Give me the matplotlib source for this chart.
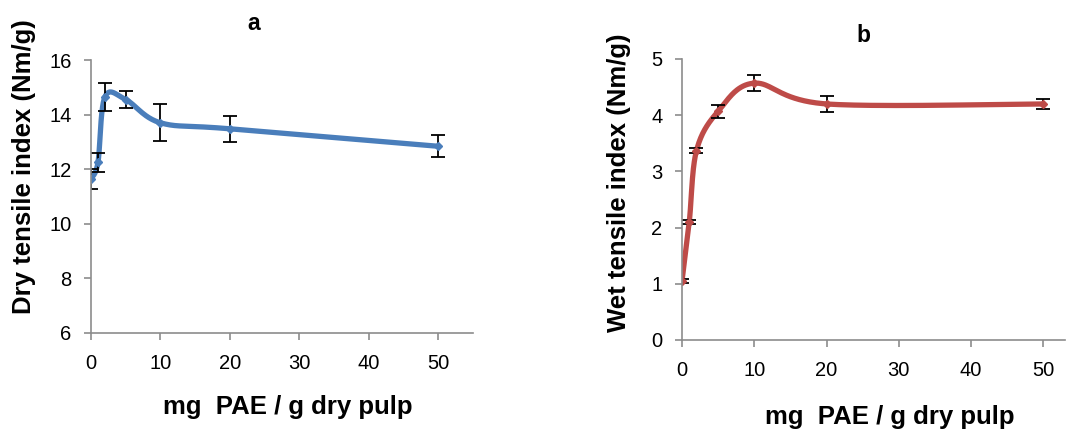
import numpy as np
import matplotlib
matplotlib.use('Agg')
import matplotlib.pyplot as plt

plt.rcParams['font.family'] = ['Liberation Sans', 'DejaVu Sans']

# data
dose = [0, 1, 2, 5, 10, 20, 50]
dry_index = [11.65, 12.25, 14.65, 14.55, 13.7, 13.48, 12.84]
dry_err = [0.36, 0.35, 0.5, 0.3, 0.68, 0.48, 0.4]
wet_index = [1.05, 2.1, 3.37, 4.07, 4.57, 4.2, 4.2]
wet_err = [0.03, 0.04, 0.04, 0.12, 0.14, 0.15, 0.09]


def excel_smooth(x, y, n=40):
    # bezier smoothing like Excel's "smoothed line"
    x = np.asarray(x, float)
    y = np.asarray(y, float)
    px = np.concatenate([[x[0]], x, [x[-1]]])
    py = np.concatenate([[y[0]], y, [y[-1]]])
    xs, ys = [], []
    t = np.linspace(0, 1, n)
    for i in range(1, len(px) - 2):
        p0 = np.array([px[i], py[i]])
        p3 = np.array([px[i + 1], py[i + 1]])
        c1 = p0 + (np.array([px[i + 1], py[i + 1]]) - np.array([px[i - 1], py[i - 1]])) / 6
        c2 = p3 - (np.array([px[i + 2], py[i + 2]]) - np.array([px[i], py[i]])) / 6
        b = ((1 - t) ** 3)[:, None] * p0 + (3 * (1 - t) ** 2 * t)[:, None] * c1 \
            + (3 * (1 - t) * t ** 2)[:, None] * c2 + (t ** 3)[:, None] * p3
        xs.extend(b[:, 0])
        ys.extend(b[:, 1])
    return np.array(xs), np.array(ys)


def style_axis(ax):
    for s in ['top', 'right']:
        ax.spines[s].set_visible(False)
    for s in ['left', 'bottom']:
        ax.spines[s].set_color('#8c8c8c')
        ax.spines[s].set_linewidth(1.2)
    ax.tick_params(direction='out', length=5, width=1.2, color='#8c8c8c',
                   labelsize=14.5, labelcolor='black')
    ax.tick_params(axis='x', pad=10)
    ax.tick_params(axis='y', pad=9)


fig = plt.figure(figsize=(10.67, 4.29), dpi=100)

ax1 = fig.add_axes([0.0853, 0.2238, 0.358, 0.6363])
sx, sy = excel_smooth(dose, dry_index)
ax1.plot(sx, sy, color='#4a7ebb', lw=3.8, solid_capstyle='round')
ax1.errorbar(dose, dry_index, yerr=dry_err, fmt='D', color='#4a7ebb', ms=4,
             ecolor='black', elinewidth=1.3, capsize=5, capthick=1.3)
ax1.set_xlim(0, 55)
ax1.set_ylim(6, 16)
ax1.set_xticks([0, 10, 20, 30, 40, 50])
ax1.set_yticks([6, 8, 10, 12, 14, 16])
style_axis(ax1)
fig.text(0.238, 0.946, 'a', fontsize=16.5, fontweight='bold', ha='center', va='center')
fig.text(0.0225, 0.611, 'Dry tensile index (Nm/g)', fontsize=18.5, fontweight='bold',
         rotation=90, ha='center', va='center')
fig.text(0.27, 0.051, 'mg  PAE / g dry pulp', fontsize=18.5, fontweight='bold',
         ha='center', va='center')

ax2 = fig.add_axes([0.6392, 0.2075, 0.359, 0.655])
sx, sy = excel_smooth(dose, wet_index)
ax2.plot(sx, sy, color='#be4b48', lw=3.8, solid_capstyle='round')
ax2.errorbar(dose, wet_index, yerr=wet_err, fmt='D', color='#be4b48', ms=4,
             ecolor='black', elinewidth=1.3, capsize=5, capthick=1.3)
ax2.set_xlim(0, 53)
ax2.set_ylim(0, 5)
ax2.set_xticks([0, 10, 20, 30, 40, 50])
ax2.set_yticks([0, 1, 2, 3, 4, 5])
style_axis(ax2)
fig.text(0.809, 0.918, 'b', fontsize=16.5, fontweight='bold', ha='center', va='center')
fig.text(0.58, 0.573, 'Wet tensile index (Nm/g)', fontsize=18.5, fontweight='bold',
         rotation=90, ha='center', va='center')
fig.text(0.834, 0.028, 'mg  PAE / g dry pulp', fontsize=18.5, fontweight='bold',
         ha='center', va='center')

fig.savefig('out.png', dpi=100)
